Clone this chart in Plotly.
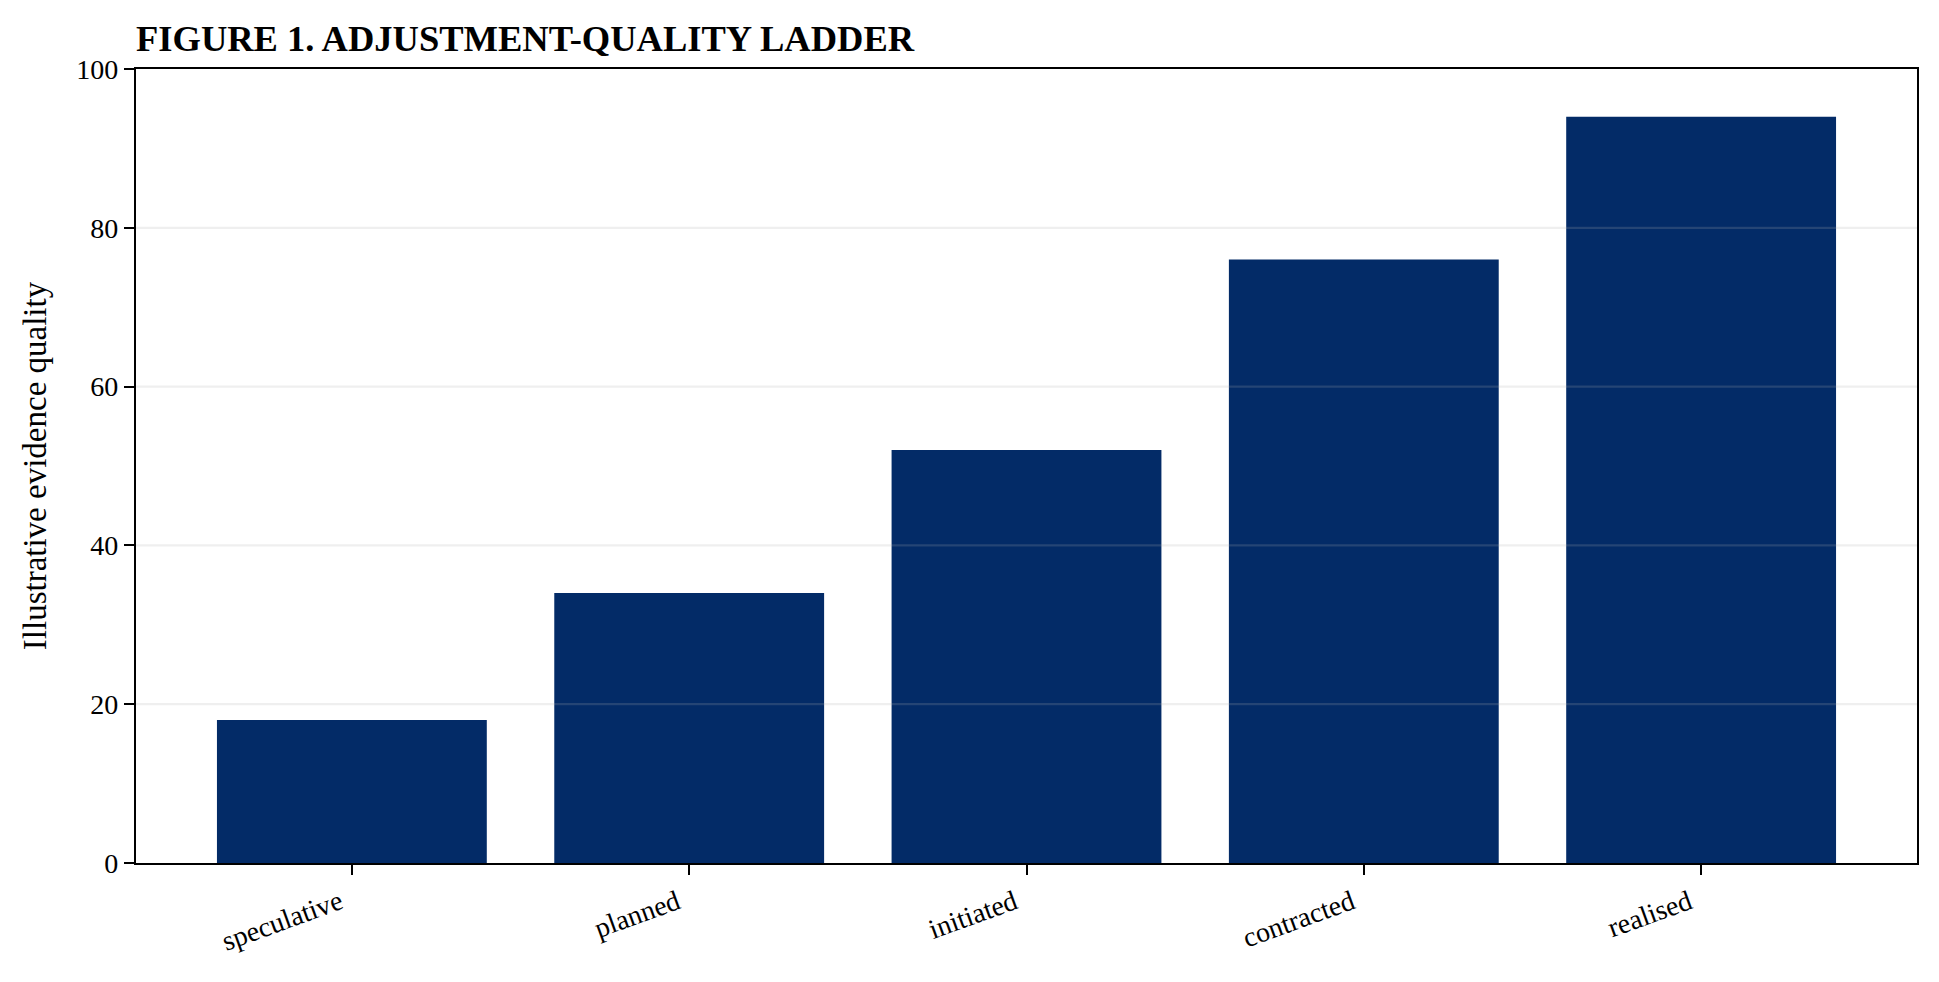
import plotly.graph_objects as go

# Ladder stages and their illustrative quality scores
Stages = ['speculative', 'planned', 'initiated', 'contracted', 'realised']
Quality = [18, 34, 52, 76, 94]

# y axis ticks, also used for the grid lines that sit over the bars
YTicks = [0, 20, 40, 60, 80, 100]

BarColour = '#032b67'
GridColour = 'rgba(176,176,176,0.2)'
FontName = 'Liberation Serif'

fig = go.Figure()
fig.add_trace(go.Bar(x=list(range(len(Stages))),
                     y=Quality,
                     width=0.8,
                     marker=dict(color=BarColour, line=dict(width=0)),
                     showlegend=False))

#Grid lines drawn on top of the bars, like the original
for t in YTicks[1:-1]:
    fig.add_shape(type='line', xref='paper', yref='y',
                  x0=0, x1=1, y0=t, y1=t,
                  line=dict(color=GridColour, width=2.2),
                  layer='above')

#The page body has an 8px margin, so the figure is sized a bit smaller than the window
fig.update_layout(width=1923, height=966,
                  margin=dict(l=128, r=14, t=61, b=111),
                  plot_bgcolor='white',
                  paper_bgcolor='white',
                  font=dict(family=FontName, size=28, color='black'),
                  title=dict(text='FIGURE 1. ADJUSTMENT-QUALITY LADDER',
                             font=dict(family=FontName, size=36.5, color='black', weight='bold'),
                             xref='paper', x=0, xanchor='left',
                             yref='paper', y=1, yanchor='bottom',
                             pad=dict(b=18, l=0)))

fig.update_xaxes(range=[-0.64, 4.64],
                 tickmode='array',
                 tickvals=list(range(len(Stages))),
                 ticktext=Stages,
                 tickangle=-20,
                 ticklabelshift=-12,
                 tickfont=dict(size=28),
                 showgrid=False,
                 zeroline=False,
                 showline=True, linecolor='black', linewidth=2.2, mirror=True,
                 ticks='outside', ticklen=10, tickwidth=2.2, tickcolor='black')

fig.update_yaxes(range=[0, 100],
                 tickmode='array',
                 tickvals=YTicks,
                 tickfont=dict(size=28),
                 showgrid=False,
                 zeroline=False,
                 showline=True, linecolor='black', linewidth=2.2, mirror=True,
                 ticks='outside', ticklen=10, tickwidth=2.2, tickcolor='black',
                 title=dict(text='Illustrative evidence quality',
                            font=dict(size=33), standoff=20))

fig.write_html("out.html")
